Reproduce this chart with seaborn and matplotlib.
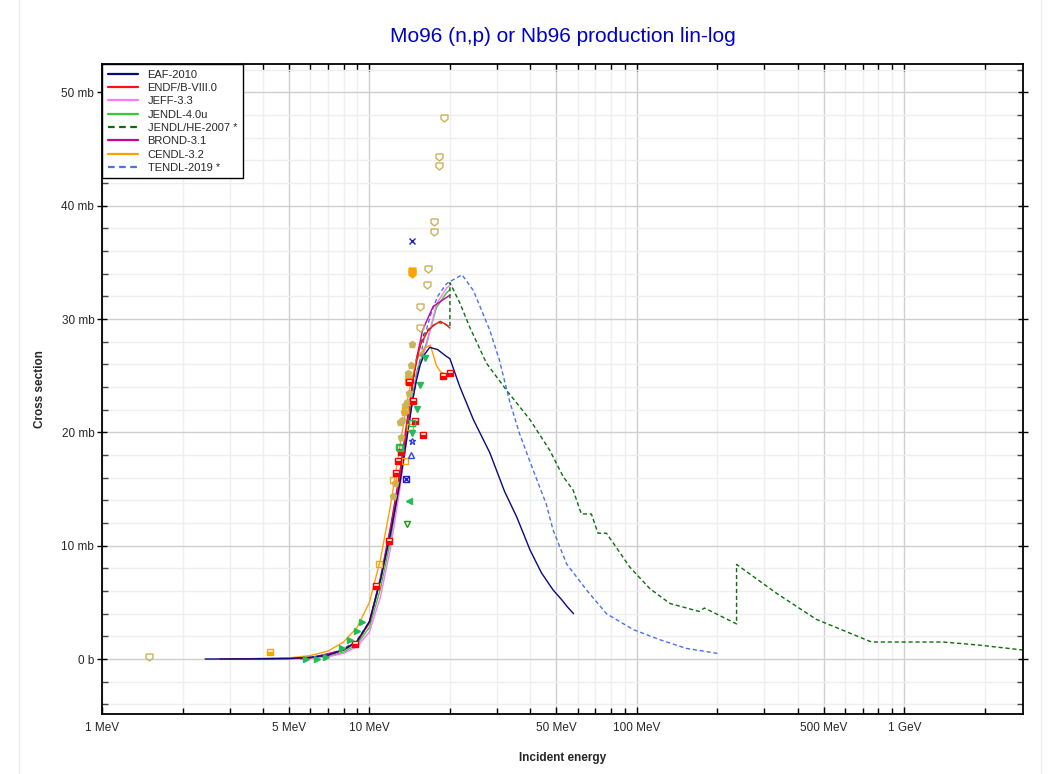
import matplotlib
matplotlib.use("Agg")
import matplotlib.pyplot as plt
import numpy as np
import pandas as pd
import seaborn as sns
from matplotlib.ticker import FixedLocator, NullFormatter
from matplotlib.lines import Line2D

sns.set_theme(style="white")
plt.rcParams['font.family'] = ['Liberation Sans', 'DejaVu Sans']
plt.rcParams['font.size'] = 8.5

# ---- evaluated data (E in MeV, xs in mb) ----
eaf_e = [2.43, 4, 5, 6, 7, 8, 9, 10, 11, 12, 13, 13.5, 14, 14.5, 15, 15.5, 16, 16.8, 18, 19.4, 20,
         21.8, 24.5, 28.2, 32, 35.6, 39.9, 44, 48.6, 52.5, 55, 58]
eaf_xs = [0, 0.02, 0.05, 0.15, 0.35, 0.8, 1.6, 3.3, 7.0, 11.1, 15.5, 18.0, 20.4, 22.8, 24.6, 26.0, 26.8, 27.5,
          27.3, 26.7, 26.5, 24.0, 21.1, 18.2, 14.8, 12.5, 9.6, 7.6, 6.1, 5.2, 4.6, 4.0]

endf_e = [2.76, 5, 6, 7, 8, 9, 10, 11, 12, 13, 14, 14.6, 15.5, 16.5, 17.3, 18.4, 19.4, 20]
endf_xs = [0, 0.03, 0.12, 0.35, 0.8, 1.5, 3.2, 7.0, 11.3, 16.0, 21.5, 24.9, 27.7, 28.9, 29.4, 29.8, 29.5, 29.2]

jeff_e = [3, 6, 7, 8, 9, 10, 11, 12, 13, 14, 15, 16.4, 17.8, 19.4, 20]
jeff_xs = [0, 0.05, 0.2, 0.5, 1.1, 2.4, 5.5, 9.8, 15.0, 20.5, 25.0, 27.8, 31.3, 32.7, 33.0]

jendl_e = [3, 6, 7, 8, 9, 10, 11, 12, 13, 14, 15, 16.4, 17.8, 19.4, 20]
jendl_xs = [0, 0.06, 0.25, 0.6, 1.3, 2.8, 6.2, 10.5, 15.6, 21.0, 25.3, 28.0, 31.0, 32.3, 32.6]

jendlhe_e = [5.5, 7, 8, 9, 10, 11, 12, 13, 14, 15, 16, 17, 18, 19, 20, 20, 21.8, 23.7, 27.4, 32.6, 39.9,
             47.3, 53, 57.8, 62, 67.6, 71.6, 77, 94.2, 112, 133, 171, 179, 236, 236, 333, 469, 755,
             1398, 1900, 2770, 3000]
jendlhe_xs = [0.02, 0.35, 0.8, 1.5, 3.2, 7.0, 11.3, 16.0, 21.5, 26.5, 28.7, 29.3, 29.7, 29.6, 29.3, 33.2,
              31.4, 29.3, 26.1, 23.7, 21.1, 18.4, 16.1, 14.9, 12.8, 12.8, 11.1, 11.1, 8.1, 6.2, 4.9, 4.2,
              4.5, 3.1, 8.35, 5.8, 3.5, 1.5, 1.5, 1.23, 0.8, 0.75]

brond_e = [3, 6, 8, 9, 10, 11, 12, 13, 14, 15, 15.8, 17.3, 19.4, 20]
brond_xs = [0, 0.1, 0.8, 1.5, 3.3, 7.2, 11.7, 16.5, 22.0, 26.5, 29.0, 31.1, 31.9, 32.1]

cendl_e = [3, 5, 6, 7, 8, 9, 10, 11, 12, 13, 14, 15, 16, 16.9, 17.8, 18.5, 19.4, 20]
cendl_xs = [0, 0.1, 0.3, 0.7, 1.5, 2.8, 5.0, 8.8, 13.6, 18.8, 23.4, 26.4, 27.4, 27.7, 25.9, 25.3, 25.1, 25.0]

tendl_e = [3, 5, 6, 7, 8, 9, 10, 11, 12, 13, 14, 15, 16, 17, 18, 19.4, 20, 22.2, 24.5, 28.2, 30.6, 33.4,
           36.4, 40.9, 45.8, 48.6, 54.6, 64.8, 77, 96.9, 122, 153, 200]
tendl_xs = [0, 0.05, 0.15, 0.4, 0.9, 1.7, 3.3, 7.0, 11.5, 16.2, 21.0, 24.8, 28.3, 30.5, 32.0, 33.1, 33.3,
            33.9, 32.5, 29.0, 26.4, 22.8, 19.9, 16.7, 13.7, 11.4, 8.4, 6.1, 4.0, 2.6, 1.7, 0.94, 0.5]

# ---- experimental points ----
khaki_open_e = [1.5, 15.5, 15.5, 16.4, 16.5, 17.4, 17.4, 18.2, 18.2, 19.0]
khaki_open_xs = [0.15, 29.2, 31.1, 33.0, 34.4, 37.7, 38.6, 43.5, 44.3, 47.7]

khaki_fill_e = [12.3, 12.5, 13.0, 13.1, 13.2, 13.5, 13.8, 14.0, 14.1, 14.3, 14.4, 14.0, 13.6]
khaki_fill_xs = [14.4, 15.5, 20.9, 19.6, 21.1, 21.8, 22.7, 24.9, 23.5, 25.9, 27.8, 25.2, 22.4]

orange_fill_e = [14.4, 14.4]
orange_fill_xs = [34.0, 34.2]
orange_sq_e = [4.25]
orange_sq_xs = [0.6]
orange_open_e = [10.9, 12.3, 13.6, 13.6, 13.9, 14.2]
orange_open_xs = [8.4, 15.8, 17.5, 22.0, 24.5, 20.5]

red_e = [8.85, 10.6, 11.8, 12.6, 12.8, 13.1, 14.1, 14.6, 14.8, 15.8, 18.8, 20.0]
red_xs = [1.3, 6.4, 10.4, 16.4, 17.5, 18.3, 24.4, 22.8, 21.0, 19.8, 25.0, 25.2]

green_right_e = [5.8, 6.35, 6.9, 7.93, 8.46, 8.95, 9.36]
green_right_xs = [0, 0.02, 0.2, 1.0, 1.7, 2.5, 3.3]
green_down_e = [14.4, 15.0, 15.5, 16.2]
green_down_xs = [19.9, 22.1, 24.2, 26.6]
green_sq_e = [12.9, 14.4, 13.0]
green_sq_xs = [18.7, 20.8, 18.6]
green_left_e = [14.1]
green_left_xs = [13.9]
green_opendown_e = [13.8]
green_opendown_xs = [11.9]

blue_x_e = [14.4]
blue_x_xs = [36.9]
blue_sqx_e = [13.7]
blue_sqx_xs = [15.9]
blue_tri_e = [14.3]
blue_tri_xs = [18.0]
blue_star_e = [14.4]
blue_star_xs = [19.2]

xtick_vals = [1, 5, 10, 50, 100, 500, 1000]
xtick_labels = ["1 MeV", "5 MeV", "10 MeV", "50 MeV", "100 MeV", "500 MeV", "1 GeV"]
ytick_vals = [0, 10, 20, 30, 40, 50]
ytick_labels = ["0 b", "10 mb", "20 mb", "30 mb", "40 mb", "50 mb"]

fig = plt.figure(figsize=(10.53, 7.74), dpi=100)
ax = fig.add_axes([102 / 1053, 1 - 714 / 774, 921 / 1053, 650 / 774])

# light card border
for xx in (19 / 1053, 1041 / 1053):
    fig.add_artist(Line2D([xx, xx], [0, 1], transform=fig.transFigure, color="#ececec", lw=1))

curves = [
    ("JENDL-4.0u", jendl_e, jendl_xs, "#33cc33", "-"),
    ("JEFF-3.3", jeff_e, jeff_xs, "#ff77ff", "-"),
    ("JENDL/HE-2007 *", jendlhe_e, jendlhe_xs, "#0b6e0b", (0, (3, 2))),
    ("TENDL-2019 *", tendl_e, tendl_xs, "#4a72e8", (0, (3, 2))),
    ("BROND-3.1", brond_e, brond_xs, "#c8009b", "-"),
    ("CENDL-3.2", cendl_e, cendl_xs, "#ffa000", "-"),
    ("ENDF/B-VIII.0", endf_e, endf_xs, "#ff1010", "-"),
    ("EAF-2010", eaf_e, eaf_xs, "#0a0a80", "-"),
]
for name, e, xs, col, ls in curves:
    df = pd.DataFrame({"E": e, "xs": xs})
    sns.lineplot(data=df, x="E", y="xs", ax=ax, color=col, linestyle=ls, lw=1.0,
                 sort=False, estimator=None, label=name)

khaki = "#c8b45a"
mk = dict(linestyle="none", markersize=5, markeredgewidth=1.0)
shield = [(-1, 1), (1, 1), (1, -0.2), (0, -1), (-1, -0.2), (-1, 1)]
ax.plot(khaki_open_e, khaki_open_xs, marker=shield, color=khaki, mfc="none", **mk)
ax.plot(khaki_fill_e, khaki_fill_xs, marker="p", color=khaki, **mk)
ax.plot(orange_fill_e, orange_fill_xs, marker=shield, color="#ffa500", mfc="#ffa500", **mk)
ax.plot(orange_sq_e, orange_sq_xs, marker="s", color="#ffa500", fillstyle="bottom", mfcalt="white", **mk)
ax.plot(orange_open_e, orange_open_xs, marker="s", color="#ffa500", mfc="none", **mk)
ax.plot(red_e, red_xs, marker="s", color="#ff0000", fillstyle="bottom", mfc="#ff0000", mfcalt="white", **mk)
ax.plot(green_right_e, green_right_xs, marker=">", color="#22bb55", **mk)
ax.plot(green_down_e, green_down_xs, marker="v", color="#22bb55", **mk)
ax.plot(green_sq_e, green_sq_xs, marker="s", color="#22bb55", mfc="none", **mk)
ax.plot(green_left_e, green_left_xs, marker="<", color="#22bb55", **mk)
ax.plot(green_opendown_e, green_opendown_xs, marker="v", color="#119911", mfc="none", **mk)
ax.plot(blue_x_e, blue_x_xs, marker="x", color="#2222bb", **mk)
ax.plot(blue_sqx_e, blue_sqx_xs, marker="s", color="#2222bb", mfc="none", **mk)
ax.plot(blue_sqx_e, blue_sqx_xs, marker="x", color="#2222bb", linestyle="none", markersize=4, mew=1)
ax.plot(blue_tri_e, blue_tri_xs, marker="^", color="#3344ee", mfc="none", **mk)
ax.plot(blue_star_e, blue_star_xs, marker="*", color="#3344ee", mfc="none", **mk)

ax.set_xscale("log")
ax.set_xlim(1, 2780)
ax.set_ylim(-4.85, 52.5)

minor_x = [m * 10 ** k for k in range(0, 4) for m in range(2, 10)]
minor_x = [v for v in minor_x if v not in xtick_vals and v < 2780]
ax.xaxis.set_major_locator(FixedLocator(xtick_vals))
ax.xaxis.set_minor_locator(FixedLocator(minor_x))
ax.xaxis.set_minor_formatter(NullFormatter())
ax.set_xticklabels(xtick_labels)
ax.yaxis.set_major_locator(FixedLocator(ytick_vals))
ax.yaxis.set_minor_locator(FixedLocator(np.arange(-4, 53, 2)))
ax.set_yticklabels(ytick_labels)

ax.grid(True, which="major", color="#cfcfcf", lw=1.0)
ax.grid(True, which="minor", color="#efefef", lw=1.0)
ax.set_axisbelow(True)

ax.tick_params(axis="x", which="both", direction="in", top=True, bottom=True, labelsize=8.5,
               color="black", pad=6)
ax.tick_params(axis="x", which="major", length=5, width=1)
ax.tick_params(axis="x", which="minor", length=4, width=1)
ax.tick_params(axis="y", which="major", direction="inout", left=True, right=True, length=7,
               width=1, labelsize=8.5, color="black", pad=2)
ax.tick_params(axis="y", which="minor", direction="in", left=True, right=True, length=4,
               width=1, color="#444444")
for s in ax.spines.values():
    s.set_color("black")
    s.set_linewidth(1.3)

ax.set_xlabel("Incident energy", fontweight="bold", fontsize=8.5)
ax.set_ylabel("Cross section", fontweight="bold", fontsize=8.5)
ax.xaxis.set_label_coords(0.5, -0.058)
ax.yaxis.set_label_coords(-0.061, 0.5)
ax.set_title("Mo96 (n,p) or Nb96 production lin-log", color="#0000cc", fontsize=15, pad=16)

order = ["EAF-2010", "ENDF/B-VIII.0", "JEFF-3.3", "JENDL-4.0u", "JENDL/HE-2007 *",
         "BROND-3.1", "CENDL-3.2", "TENDL-2019 *"]
handles, labels = ax.get_legend_handles_labels()
hmap = dict(zip(labels, handles))
leg = ax.legend([hmap[o] for o in order], order, loc="upper left", bbox_to_anchor=(0, 1),
                borderaxespad=0, fontsize=8, frameon=True, fancybox=False, framealpha=1,
                edgecolor="black", labelspacing=0.3, handlelength=2.7, handletextpad=0.9,
                borderpad=0.5)
leg.get_frame().set_linewidth(1.0)
for h in leg.get_lines():
    h.set_linewidth(1.6)

fig.savefig("out.png", dpi=100)
